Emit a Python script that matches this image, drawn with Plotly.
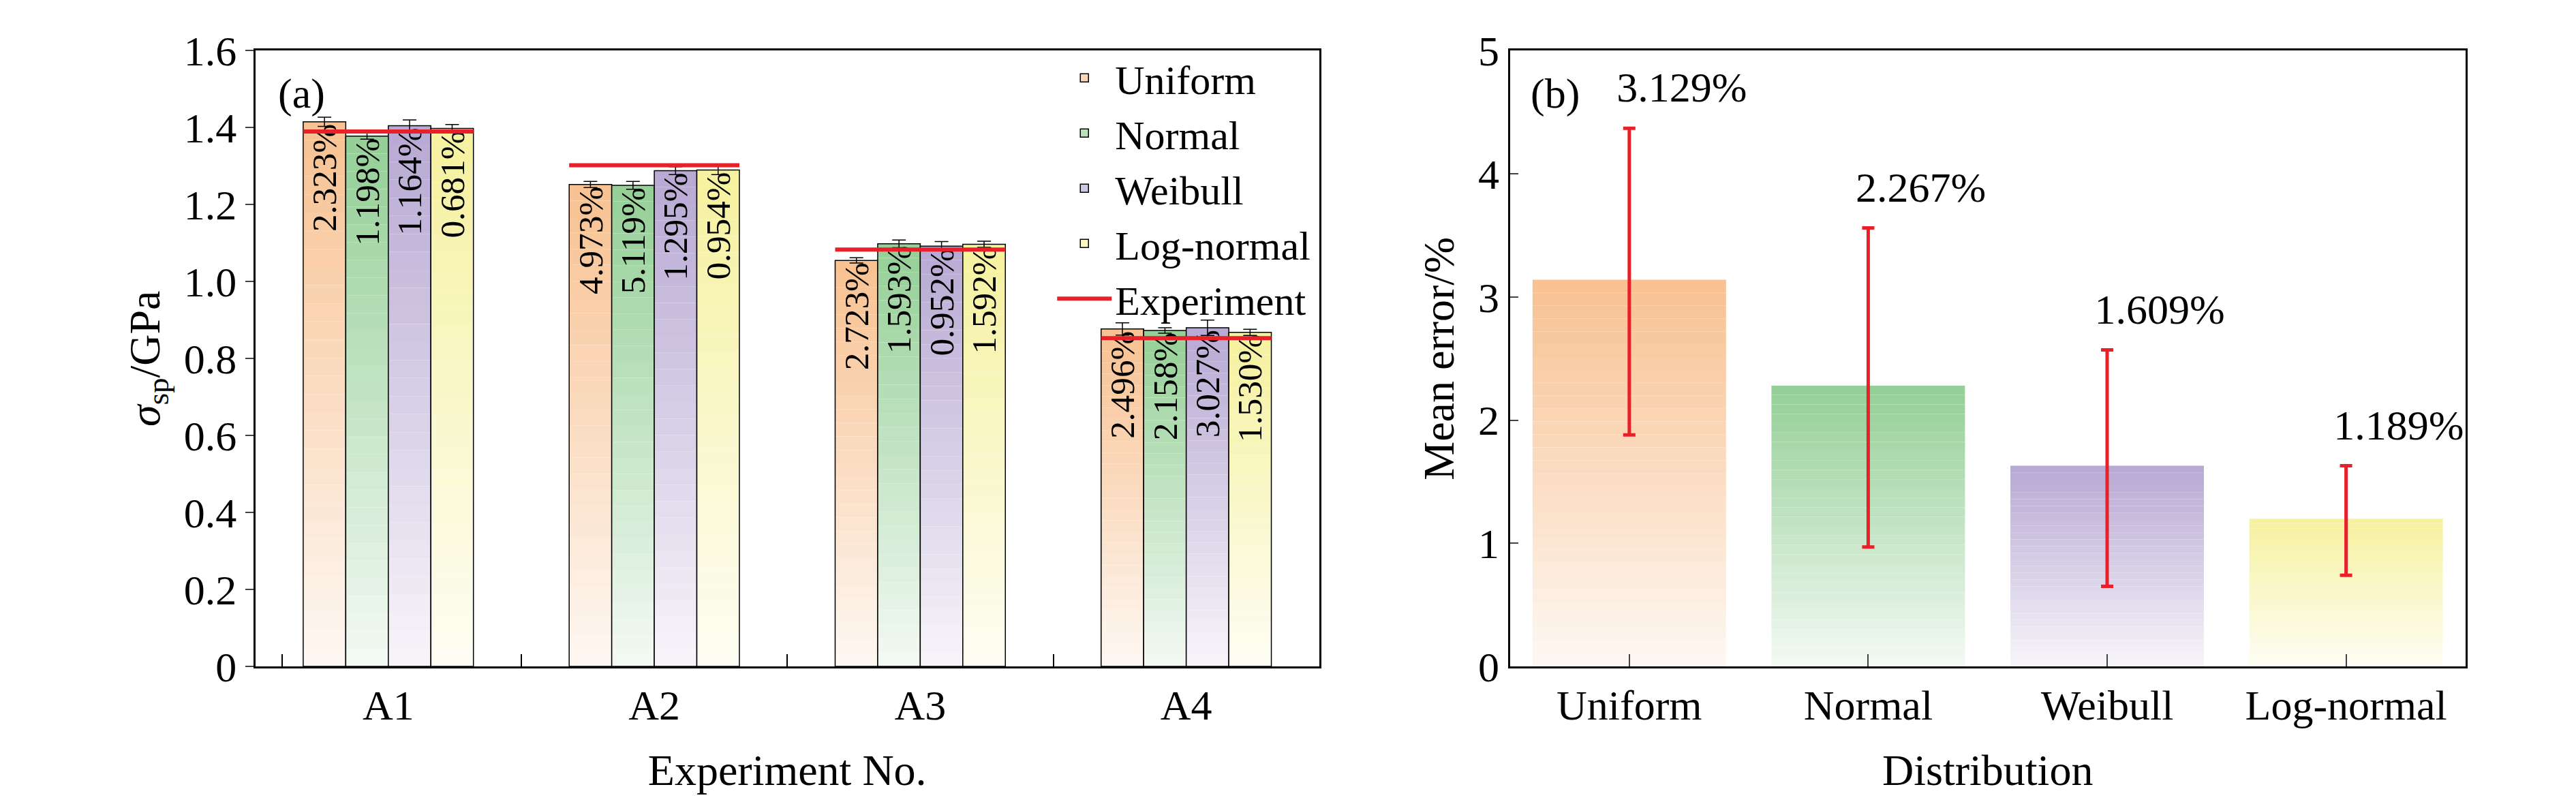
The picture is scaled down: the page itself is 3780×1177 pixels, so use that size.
import plotly.graph_objects as go
from plotly.subplots import make_subplots

FONT = "Liberation Serif"
N_SEG = 30  # vertical slices used to fake the gradient fill

dists = ["Uniform", "Normal", "Weibull", "Log-normal"]
top_colors = {"Uniform": (248, 194, 146), "Normal": (150, 208, 152),
              "Weibull": (184, 170, 212), "Log-normal": (246, 242, 160)}

# panel (a): predicted strength per experiment and distribution
experiments = ["A1", "A2", "A3", "A4"]
strength = {
  "Uniform":    [1.415, 1.252, 1.055, 0.877],
  "Normal":     [1.378, 1.250, 1.098, 0.873],
  "Weibull":    [1.405, 1.288, 1.092, 0.880],
  "Log-normal": [1.398, 1.290, 1.097, 0.868],
}
strength_err = {
  "Uniform":    [0.012, 0.008, 0.007, 0.016],
  "Normal":     [0.008, 0.010, 0.010, 0.007],
  "Weibull":    [0.015, 0.010, 0.012, 0.020],
  "Log-normal": [0.010, 0.012, 0.008, 0.008],
}
rel_error = {
  "Uniform":    ["2.323%", "4.973%", "2.723%", "2.496%"],
  "Normal":     ["1.198%", "5.119%", "1.593%", "2.158%"],
  "Weibull":    ["1.164%", "1.295%", "0.952%", "3.027%"],
  "Log-normal": ["0.681%", "0.954%", "1.592%", "1.530%"],
}
experiment = [1.390, 1.302, 1.083, 0.853]

# panel (b): mean error per distribution
mean_err = [3.129, 2.267, 1.609, 1.189]
bar_top = [3.14, 2.28, 1.63, 1.20]
err_hi = [4.37, 3.56, 2.57, 1.63]
err_lo = [1.88, 0.97, 0.65, 0.74]

TICK = 62
TITLE = 64

def shade(rgb, f):
  # f=1 -> full colour, f=0 -> nearly white
  c = [int(255 - (255 - v) * (0.12 + 0.88 * f)) for v in rgb]
  return "rgb(%d,%d,%d)" % tuple(c)

fig = make_subplots(rows=1, cols=2, horizontal_spacing=0.07)

bw = 0.16
xs = list(range(len(experiments)))
for i, d in enumerate(dists):
  off = -0.32 + i * bw
  vals = strength[d]
  for k in range(N_SEG):
    fig.add_trace(go.Bar(
      x=xs, y=[v / N_SEG for v in vals], base=[v * k / N_SEG for v in vals],
      width=bw, offset=off, marker=dict(color=shade(top_colors[d], k / (N_SEG - 1)), line_width=0),
      showlegend=False, hoverinfo="skip"), row=1, col=1)
  # outline, label and error bar
  fig.add_trace(go.Bar(
    x=xs, y=vals, width=bw, offset=off, name=d, showlegend=False,
    marker=dict(color="rgba(0,0,0,0)", line=dict(color="black", width=1.5)),
    text=rel_error[d], textposition="inside", insidetextanchor="end", textangle=-90,
    textfont=dict(family=FONT, size=60, color="black"),
    error_y=dict(type="data", array=strength_err[d], color="black", thickness=1.5, width=10)),
    row=1, col=1)

# legend swatches
for d in dists:
  fig.add_trace(go.Bar(x=[None], y=[None], name=d,
                       marker=dict(color=shade(top_colors[d], 0.6), line=dict(color="black", width=1.5))),
                row=1, col=1)

for j, e in enumerate(experiment):
  fig.add_trace(go.Scatter(x=[j - 0.32, j + 0.32], y=[e, e], mode="lines",
                           line=dict(color="#e8202a", width=6), name="Experiment",
                           showlegend=(j == 0)), row=1, col=1)

# panel (b)
xb = list(range(len(dists)))
for i, d in enumerate(dists):
  for k in range(N_SEG):
    fig.add_trace(go.Bar(
      x=[i], y=[bar_top[i] / N_SEG], base=[bar_top[i] * k / N_SEG], width=0.81,
      marker=dict(color=shade(top_colors[d], k / (N_SEG - 1)), line_width=0),
      showlegend=False, hoverinfo="skip"), row=1, col=2)
fig.add_trace(go.Scatter(
  x=xb, y=bar_top, mode="markers", marker=dict(size=1, color="rgba(0,0,0,0)"), showlegend=False,
  error_y=dict(type="data", symmetric=False,
               array=[h - v for h, v in zip(err_hi, bar_top)],
               arrayminus=[v - l for l, v in zip(err_lo, bar_top)],
               color="#e8202a", thickness=5, width=9)), row=1, col=2)
fig.add_trace(go.Scatter(
  x=[x + 0.22 for x in xb], y=[h + 0.3 for h in err_hi], mode="text", text=["%.3f%%" % m for m in mean_err],
  textfont=dict(family=FONT, size=62, color="black"), showlegend=False), row=1, col=2)

axis_common = dict(showline=True, linecolor="black", linewidth=3, mirror=True,
                   tickfont=dict(family=FONT, size=TICK, color="black"),
                   showgrid=False, zeroline=False)

fig.update_xaxes(**axis_common, range=[-0.5, 3.5], tickvals=xs, ticktext=experiments, ticks="",
                 minor=dict(tickvals=[-0.4, 0.5, 1.5, 2.5], ticks="inside", ticklen=18, tickcolor="black", tickwidth=2),
                 title=dict(text="Experiment No.", font=dict(family=FONT, size=TITLE, color="black"), standoff=40),
                 row=1, col=1)
yt = [0, 0.2, 0.4, 0.6, 0.8, 1.0, 1.2, 1.4, 1.6]
fig.update_yaxes(**axis_common, range=[0, 1.6], tickvals=yt, ticktext=["0"] + ["%.1f" % v for v in yt[1:]],
                 ticks="outside", ticklen=12, tickwidth=2,
                 title=dict(text="<i>σ</i><sub>sp</sub>/GPa", font=dict(family=FONT, size=TITLE, color="black")),
                 row=1, col=1)
fig.update_xaxes(**axis_common, range=[-0.5, 3.5], tickvals=xb, ticktext=dists, ticks="inside", ticklen=18, tickwidth=2,
                 title=dict(text="Distribution", font=dict(family=FONT, size=TITLE, color="black"), standoff=40),
                 row=1, col=2)
fig.update_yaxes(**axis_common, range=[0, 5], dtick=1, ticks="inside", ticklen=12, tickwidth=2,
                 title=dict(text="Mean error/%", font=dict(family=FONT, size=TITLE, color="black")),
                 row=1, col=2)
fig.update_xaxes(domain=[0.097, 0.51], row=1, col=1)
fig.update_xaxes(domain=[0.584, 0.955], row=1, col=2)
fig.update_yaxes(domain=[0.155, 0.97])

fig.add_annotation(text="(a)", xref="x domain", yref="y domain", x=0.02, y=0.97, showarrow=False,
                   xanchor="left", yanchor="top", font=dict(family=FONT, size=TICK, color="black"))
fig.add_annotation(text="(b)", xref="x2 domain", yref="y2 domain", x=0.02, y=0.97, showarrow=False,
                   xanchor="left", yanchor="top", font=dict(family=FONT, size=TICK, color="black"))

fig.update_layout(
  width=3780, height=1177, barmode="overlay", plot_bgcolor="white", paper_bgcolor="white",
  margin=dict(l=0, r=0, t=0, b=0),
  legend=dict(x=0.508, y=0.975, xanchor="right", yanchor="top",
              bgcolor="rgba(0,0,0,0)", font=dict(family=FONT, size=60, color="black"),
              tracegroupgap=0, itemwidth=80),
  uniformtext=dict(minsize=40, mode="show"),
)
fig.write_html("out.html")
